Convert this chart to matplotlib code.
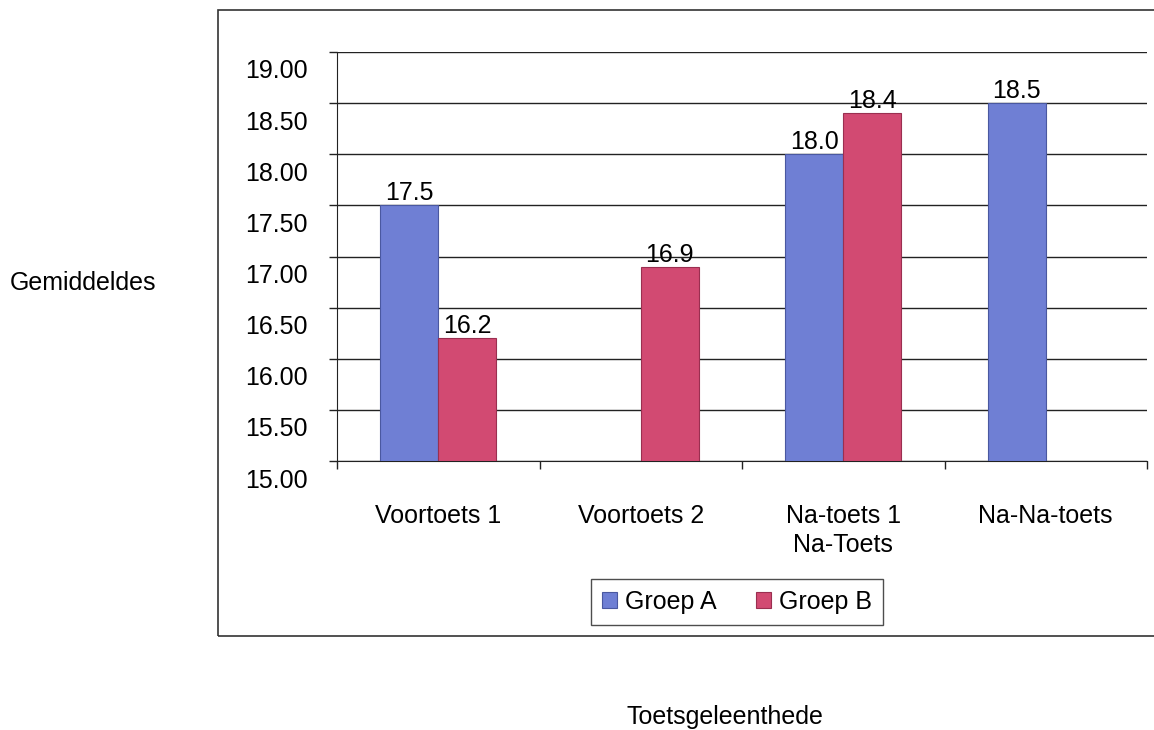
import numpy as np
import matplotlib
matplotlib.use("Agg")
import matplotlib.pyplot as plt
import matplotlib.transforms as mtransforms
from matplotlib.patches import Rectangle

plt.rcParams['font.family'] = ['Liberation Sans', 'DejaVu Sans']

# gemiddeldes per toetsgeleentheid
toetse = ['Voortoets 1', 'Voortoets 2', 'Na-toets 1\nNa-Toets', 'Na-Na-toets']
groep_a = [17.5, np.nan, 18.0, 18.5]
groep_b = [16.2, 16.9, 18.4, np.nan]
yticks = [15.0, 15.5, 16.0, 16.5, 17.0, 17.5, 18.0, 18.5, 19.0]

blou = '#6f7fd4'
rooi = '#d24a72'
fs = 18

fig = plt.figure(figsize=(11.54, 7.30), dpi=100)
W, H = 1154, 730
ax = fig.add_axes([337 / W, (H - 461) / H, (1147 - 337) / W, (461 - 52) / H])

x = np.arange(len(toetse))
w = 0.287
a = np.array(groep_a)
b = np.array(groep_b)
ma = ~np.isnan(a)
mb = ~np.isnan(b)
bars_a = ax.bar(x[ma] - w / 2, a[ma] - 15, w, bottom=15, color=blou,
                edgecolor='#4a58a0', linewidth=0.8, label='Groep A', zorder=3)
bars_b = ax.bar(x[mb] + w / 2, b[mb] - 15, w, bottom=15, color=rooi,
                edgecolor='#9a2f50', linewidth=0.8, label='Groep B', zorder=3)

# waardes bo die kolomme
for xi, v in zip(x[ma] - w / 2, a[ma]):
    ax.text(xi, v, f'{v:.1f}', ha='center', va='bottom', fontsize=fs, zorder=4)
for xi, v in zip(x[mb] + w / 2, b[mb]):
    ax.text(xi, v, f'{v:.1f}', ha='center', va='bottom', fontsize=fs, zorder=4)

ax.set_xlim(-0.5, len(toetse) - 0.5)
ax.set_ylim(15, 19)
ax.set_yticks(yticks)
ax.set_yticklabels([f'{t:.2f}' for t in yticks], fontsize=fs)
ax.yaxis.grid(True, color='#222222', linewidth=1.0, zorder=0)
ax.set_axisbelow(True)

ax.set_xticks(np.arange(-0.5, len(toetse)))
ax.set_xticklabels([])
ax.set_xticks(x, minor=True)
ax.set_xticklabels(toetse, minor=True, fontsize=fs, va='top', linespacing=1.25)
ax.tick_params(axis='x', which='major', direction='out', length=6, width=1, color='#222222')
ax.tick_params(axis='x', which='minor', length=0, pad=31)
ax.tick_params(axis='y', direction='out', length=6, width=1, color='#222222', pad=15)

for s in ['top', 'right']:
    ax.spines[s].set_visible(False)
ax.spines['left'].set_color('#222222')
ax.spines['bottom'].set_color('#222222')

# y-etikette effens laer as die gidslyne
shift = mtransforms.ScaledTranslation(0, -17 / 100, fig.dpi_scale_trans)
for lbl in ax.get_yticklabels():
    lbl.set_transform(lbl.get_transform() + shift)

leg = fig.legend(handles=[bars_a, bars_b], loc='center', ncol=2,
                 bbox_to_anchor=(737 / W, (H - 602) / H), fontsize=fs,
                 frameon=True, fancybox=False, edgecolor='#222222',
                 handlelength=0.6, handleheight=0.6, handletextpad=0.3,
                 columnspacing=1.6, borderpad=0.45)
leg.get_frame().set_linewidth(1.0)

fig.text(10 / W, (H - 283) / H, 'Gemiddeldes', fontsize=fs, ha='left', va='center')
fig.text(725 / W, (H - 717) / H, 'Toetsgeleenthede', fontsize=fs, ha='center', va='center')

# buitenste raam van die grafiek
fig.patches.append(Rectangle((218 / W, (H - 636) / H), 1.0, (636 - 10) / H,
                             transform=fig.transFigure, fill=False,
                             edgecolor='#333333', linewidth=1.2))

fig.savefig('out.png', dpi=100)
